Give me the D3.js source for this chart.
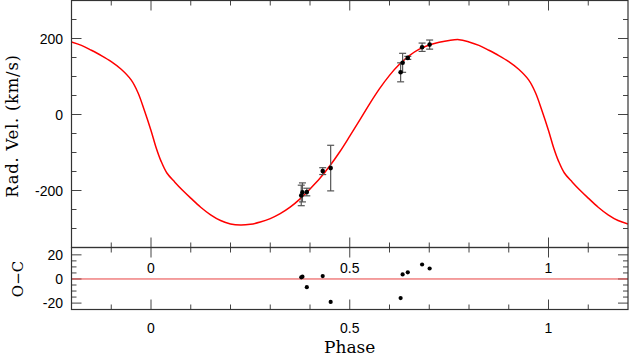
<!DOCTYPE html>
<html><head><meta charset="utf-8">
<script src="https://cdn.jsdelivr.net/npm/d3@7"></script>
<style>
html,body{margin:0;padding:0;background:#fff;}
svg{display:block;}
</style></head>
<body>
<svg id="chart" width="629" height="356"></svg>
<script>
// ---- data ----
const curvePhase = [-0.2,-0.175,-0.15,-0.125,-0.1,-0.075,-0.05,-0.033,-0.017,0,0.0125,0.025,0.04,0.06,0.08,0.1,0.125,0.15,0.175,0.2,0.225,0.25,0.275,0.3,0.325,0.35,0.375,0.4,0.425,0.45,0.475,0.5,0.525,0.55,0.575,0.6,0.625,0.65,0.675,0.7,0.725,0.75,0.775,0.8,0.825,0.85,0.875,0.9,0.925,0.95,0.967,0.983,1.0,1.0125,1.025,1.04,1.06,1.08,1.1,1.125,1.15,1.175,1.2];
const curveRV    = [191,182,169,155,139,119,91,58,12,-42,-86,-122,-154,-178,-200,-220,-244,-264,-279,-288,-291,-289,-283,-274,-261,-244,-222,-196,-168,-135,-98,-57,-15,28,68,103,132,155,172,183,190,195,197,191,182,169,155,139,119,91,58,12,-42,-86,-122,-154,-178,-200,-220,-244,-264,-279,-288];

const obsPhase = [0.378,0.381,0.392,0.432,0.452,0.628,0.633,0.646,0.682,0.701];
const obsRV    = [-213,-205,-204,-149,-141,111,136,149,177,184];
const obsErr   = [27,25,10,9,60,25,25,4,11,12];
const obsOC    = [1.4,1.9,-6.8,2.4,-19.0,-15.8,3.8,5.5,12.0,8.7];

const xMajor = [0,0.5,1];
const xMinor = [-0.1,0.1,0.2,0.3,0.4,0.6,0.7,0.8,0.9,1.1];
const xTickLabels = ["0","0.5","1"];
const rvMajor = [-200,0,200];
const rvMinor = [-300,-250,-150,-100,-50,50,100,150,250,300];
const rvTickLabels = ["-200","0","200"];
const ocMajor = [-20,0,20];
const ocMinor = [-15,-10,-5,5,10,15];
const ocTickLabels = ["-20","0","20"];

// ---- layout ----
const L = 71.5, R = 628, T = 0.5, M = 247.5, B = 309.5;
const svg = d3.select("#chart");
const x = d3.scaleLinear().domain([-0.2,1.2]).range([L,R]);
const yTop = d3.scaleLinear().domain([-350,300]).range([M,T]);
const yBot = d3.scaleLinear().domain([-25.3,26.1]).range([B,M]);

const axisCol = "#333";
const tickCol = "#444";
const majorLen = 10, minorLen = 5;

function xTicks(yLine, dir) {
  xMajor.forEach(p => svg.append("line").attr("x1",x(p)).attr("x2",x(p)).attr("y1",yLine).attr("y2",yLine+dir*majorLen).attr("stroke",tickCol).attr("stroke-width",1));
  xMinor.forEach(p => svg.append("line").attr("x1",x(p)).attr("x2",x(p)).attr("y1",yLine).attr("y2",yLine+dir*minorLen).attr("stroke",tickCol).attr("stroke-width",1));
}
function yTicks(scale, major, minor) {
  major.forEach(v => {
    svg.append("line").attr("x1",L).attr("x2",L+majorLen).attr("y1",scale(v)).attr("y2",scale(v)).attr("stroke",tickCol);
    svg.append("line").attr("x1",R).attr("x2",R-majorLen).attr("y1",scale(v)).attr("y2",scale(v)).attr("stroke",tickCol);
  });
  minor.forEach(v => {
    if (scale(v) < Math.min(...scale.range())+1 || scale(v) > Math.max(...scale.range())-1) return;
    svg.append("line").attr("x1",L).attr("x2",L+minorLen).attr("y1",scale(v)).attr("y2",scale(v)).attr("stroke",tickCol);
    svg.append("line").attr("x1",R).attr("x2",R-minorLen).attr("y1",scale(v)).attr("y2",scale(v)).attr("stroke",tickCol);
  });
}

xTicks(T, 1); xTicks(M, -1); xTicks(M, 1); xTicks(B, -1);
yTicks(yTop, rvMajor, rvMinor);
yTicks(yBot, ocMajor, ocMinor);

svg.append("clipPath").attr("id","cTop").append("rect").attr("x",L).attr("y",T).attr("width",R-L).attr("height",M-T);

const line = d3.line().x(d=>x(d[0])).y(d=>yTop(d[1])).curve(d3.curveCatmullRom.alpha(0.5));
svg.append("path").datum(curvePhase.map((p,i)=>[p,curveRV[i]]))
  .attr("d",line).attr("fill","none").attr("stroke","#ff0000").attr("stroke-width",1.5)
  .attr("clip-path","url(#cTop)");

svg.append("line").attr("x1",L).attr("x2",R).attr("y1",yBot(0)).attr("y2",yBot(0)).attr("stroke","#e84040").attr("stroke-width",1);

const errCol = "#555";
obsPhase.forEach((p,i)=>{
  const cx = x(p), y1 = yTop(obsRV[i]-obsErr[i]), y2 = yTop(obsRV[i]+obsErr[i]);
  svg.append("line").attr("x1",cx).attr("x2",cx).attr("y1",y1).attr("y2",y2).attr("stroke",errCol).attr("stroke-width",1.2);
  [y1,y2].forEach(yy=>svg.append("line").attr("x1",cx-3.5).attr("x2",cx+3.5).attr("y1",yy).attr("y2",yy).attr("stroke",errCol).attr("stroke-width",1.2));
});
svg.selectAll("circle.rv").data(obsPhase).enter().append("circle").attr("class","rv")
  .attr("cx",d=>x(d)).attr("cy",(d,i)=>yTop(obsRV[i])).attr("r",2.3).attr("fill","#000");
svg.selectAll("circle.oc").data(obsPhase).enter().append("circle").attr("class","oc")
  .attr("cx",d=>x(d)).attr("cy",(d,i)=>yBot(obsOC[i])).attr("r",2.1).attr("fill","#000");

const frame = (y0,y1)=>svg.append("rect").attr("x",L).attr("y",y0).attr("width",R-L).attr("height",y1-y0).attr("fill","none").attr("stroke",axisCol).attr("stroke-width",1.2);
frame(T,M); frame(M,B);

const sans = "'Liberation Sans', Arial, sans-serif";
const serif = "'DejaVu Serif', 'Liberation Serif', serif";
rvMajor.forEach((v,i)=>svg.append("text").attr("x",63).attr("y",yTop(v)).attr("dy","0.36em").attr("text-anchor","end")
  .attr("font-family",sans).attr("font-size",14).text(rvTickLabels[i]));
ocMajor.forEach((v,i)=>svg.append("text").attr("x",63).attr("y",yBot(v)).attr("dy","0.36em").attr("text-anchor","end")
  .attr("font-family",sans).attr("font-size",14).text(ocTickLabels[i]));
xMajor.forEach((p,i)=>{
  svg.append("text").attr("x",x(p)).attr("y",273).attr("text-anchor","middle").attr("font-family",sans).attr("font-size",14).text(xTickLabels[i]);
  svg.append("text").attr("x",x(p)).attr("y",333).attr("text-anchor","middle").attr("font-family",sans).attr("font-size",14).text(xTickLabels[i]);
});

svg.append("text").attr("transform","translate(18,"+((T+M)/2+2)+") rotate(-90)").attr("text-anchor","middle")
  .attr("font-family",serif).attr("font-size",16.5).attr("letter-spacing",0.7).text("Rad. Vel. (km/s)");
svg.append("text").attr("transform","translate(23,"+yBot(0)+") rotate(-90)").attr("text-anchor","middle")
  .attr("font-family",serif).attr("font-size",15).text("O\u2212C");
svg.append("text").attr("x",x(0.5)).attr("y",353).attr("text-anchor","middle")
  .attr("font-family",serif).attr("font-size",17).text("Phase");
</script>
</body></html>
